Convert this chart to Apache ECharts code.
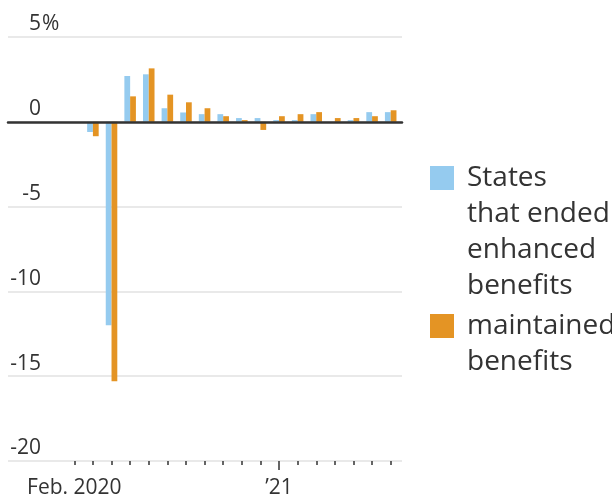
<!DOCTYPE html>
<html>
<head>
<meta charset="utf-8">
<script src="https://cdn.jsdelivr.net/npm/echarts@6/dist/echarts.min.js"></script>
<style>
  html, body { margin: 0; padding: 0; background: #fff; }
  #chart { width: 612px; height: 504px; }
</style>
</head>
<body>
<div id="chart"></div>
<script>
// monthly categories, Feb 2020 .. Jul 2021
const months = ['Feb 2020', 'Mar 2020', 'Apr 2020', 'May 2020', 'Jun 2020', 'Jul 2020',
  'Aug 2020', 'Sep 2020', 'Oct 2020', 'Nov 2020', 'Dec 2020', 'Jan 2021',
  'Feb 2021', 'Mar 2021', 'Apr 2021', 'May 2021', 'Jun 2021', 'Jul 2021'];
// % change
const endedValues = [0, -0.6, -12.0, 2.7, 2.8, 0.8, 0.55, 0.45, 0.45, 0.22, 0.22, 0.1,
  0.1, 0.45, 0, 0.1, 0.57, 0.57];
const maintainedValues = [0, -0.85, -15.3, 1.5, 3.15, 1.6, 1.15, 0.8, 0.33, 0.1, -0.48, 0.33,
  0.45, 0.57, 0.22, 0.22, 0.33, 0.68];
const xLabels = { 'Feb 2020': 'Feb. 2020', 'Jan 2021': '\u201921' };

const seriesNames = ['States\nthat ended\nenhanced\nbenefits', 'maintained\nbenefits'];
const FONT = 'Open Sans';
const TXT = '#333';

const chart = echarts.init(document.getElementById('chart'));

const legendBase = {
  left: 430, padding: 0,
  itemWidth: 24, itemHeight: 24,
  icon: 'rect',
  textStyle: { fontSize: 28, lineHeight: 36, color: TXT, padding: [0, 0, 0, 8] }
};

// category axis in the bar grid that only draws ticks
const tickAxis = (length, keep) => ({
  gridIndex: 0, type: 'category', data: months, position: 'bottom',
  axisLine: { show: false },
  axisTick: {
    show: true, alignWithLabel: true, length: length,
    interval: (i, v) => keep(v),
    lineStyle: { color: TXT, width: 1.5 }
  },
  axisLabel: { show: false }
});

const options = {
  animation: false,
  textStyle: { fontFamily: FONT },
  grid: [
    // bars
    { left: 65, right: 212, top: 37, bottom: 43 },
    // full width gridlines + labels
    { left: 8, right: 210, top: 37, bottom: 43 }
  ],
  legend: [
    Object.assign({}, legendBase, {
      data: [seriesNames[0]], top: 52,
      formatter: n => '\n\n\n' + n
    }),
    Object.assign({}, legendBase, {
      data: [seriesNames[1]], top: 272,
      formatter: n => '\n' + n
    })
  ],
  xAxis: [
    {
      gridIndex: 0, type: 'category', data: months, position: 'bottom',
      axisLine: { show: false },
      axisTick: { show: false },
      axisLabel: {
        interval: 0, fontSize: 21, color: TXT, margin: 17,
        formatter: v => xLabels[v] || ''
      }
    },
    tickAxis(4, v => v !== 'Jan 2021'),
    tickAxis(9, v => v === 'Jan 2021'),
    {
      // zero line across the full width
      gridIndex: 1, type: 'value', min: 0, max: 1, z: 10,
      axisLine: { show: true, onZero: true, lineStyle: { color: '#333', width: 2.5 } },
      axisTick: { show: false }, axisLabel: { show: false }, splitLine: { show: false }
    }
  ],
  yAxis: [
    {
      gridIndex: 0, type: 'value', min: -20, max: 5, interval: 5,
      axisLine: { show: false }, axisTick: { show: false },
      axisLabel: { show: false }, splitLine: { show: false }
    },
    {
      gridIndex: 1, type: 'value', position: 'left', min: -20, max: 5, interval: 5,
      axisLine: { show: false }, axisTick: { show: false },
      splitLine: { lineStyle: { color: '#e2e2e2', width: 1.5 } },
      axisLabel: {
        inside: true, margin: 33, align: 'right', verticalAlign: 'bottom',
        padding: [0, 0, 2, 0], fontSize: 21, color: TXT
      }
    },
    {
      // the hanging "%" after the top label
      gridIndex: 1, type: 'value', position: 'left', min: -20, max: 5, interval: 5,
      axisLine: { show: false }, axisTick: { show: false }, splitLine: { show: false },
      axisLabel: {
        inside: true, margin: 34, align: 'left', verticalAlign: 'bottom',
        padding: [0, 0, 2, 0], fontSize: 21, color: TXT,
        formatter: v => (v === 5 ? '%' : '')
      }
    }
  ],
  series: [
    {
      name: seriesNames[0], type: 'bar', xAxisIndex: 0, yAxisIndex: 0,
      data: endedValues, barGap: '0%', barCategoryGap: '38%',
      itemStyle: { color: '#95cbef' }
    },
    {
      name: seriesNames[1], type: 'bar', xAxisIndex: 0, yAxisIndex: 0,
      data: maintainedValues, barGap: '0%', barCategoryGap: '38%',
      itemStyle: { color: '#e49424' }
    }
  ]
};

chart.setOption(options);
</script>
</body>
</html>
